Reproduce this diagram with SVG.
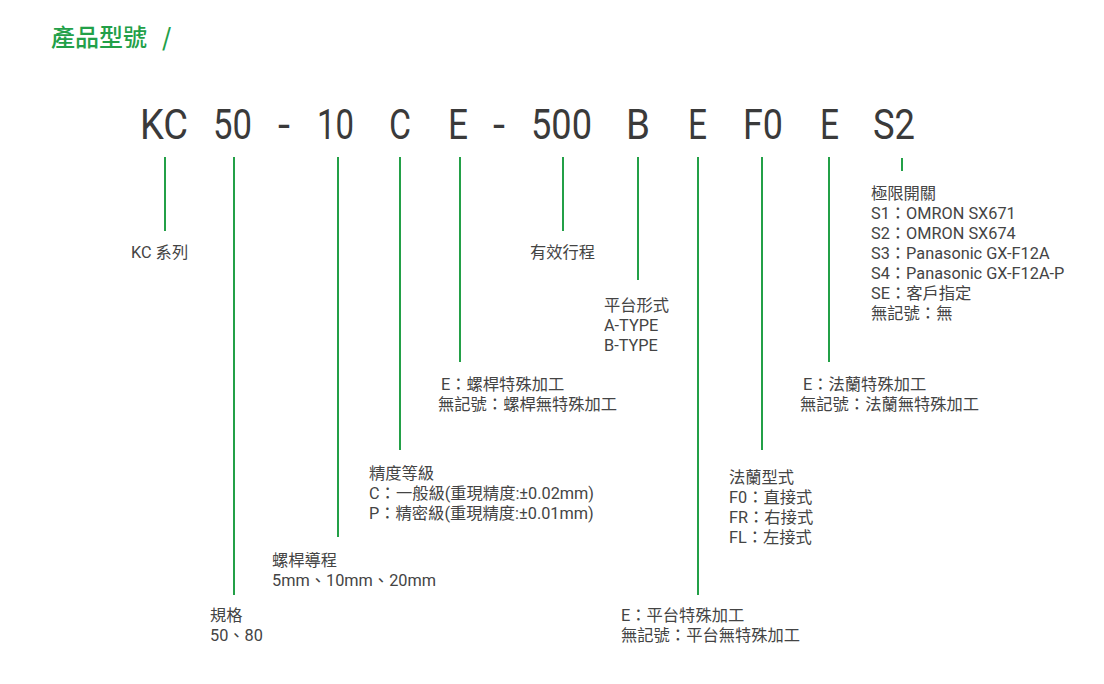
<svg xmlns="http://www.w3.org/2000/svg" width="1104" height="684" viewBox="0 0 1104 684">
<style>
.bg{fill:#ffffff}
.title{font-family:"Noto Sans CJK TC","Noto Sans",sans-serif;font-size:24px;font-weight:500;fill:#22a048}
.code{font-family:Roboto,"Liberation Sans",sans-serif;font-size:42px;fill:#3a3a3a}
.lbl{font-family:Roboto,"Noto Sans CJK TC",sans-serif;font-size:16.3px;fill:#444444}
.ln{stroke:#23a047;stroke-width:2;fill:none}
</style>
<rect class="bg" x="0" y="0" width="1104" height="684"/>
<g id="title">
<text class="title" x="51" y="46">產品型號</text>
<text class="title" x="162" y="46">/</text>
</g>
<g id="code">
<text class="code" x="140" y="139" textLength="48" lengthAdjust="spacingAndGlyphs">KC</text>
<text class="code" x="213" y="139" textLength="39" lengthAdjust="spacingAndGlyphs">50</text>
<text class="code" x="278" y="139" textLength="12" lengthAdjust="spacingAndGlyphs">-</text>
<text class="code" x="317" y="139" textLength="37" lengthAdjust="spacingAndGlyphs">10</text>
<text class="code" x="389" y="139" textLength="22" lengthAdjust="spacingAndGlyphs">C</text>
<text class="code" x="448" y="139" textLength="20" lengthAdjust="spacingAndGlyphs">E</text>
<text class="code" x="493" y="139" textLength="12" lengthAdjust="spacingAndGlyphs">-</text>
<text class="code" x="531" y="139" textLength="61" lengthAdjust="spacingAndGlyphs">500</text>
<text class="code" x="626" y="139" textLength="24" lengthAdjust="spacingAndGlyphs">B</text>
<text class="code" x="688" y="139" textLength="19" lengthAdjust="spacingAndGlyphs">E</text>
<text class="code" x="743" y="139" textLength="40" lengthAdjust="spacingAndGlyphs">F0</text>
<text class="code" x="820" y="139" textLength="19" lengthAdjust="spacingAndGlyphs">E</text>
<text class="code" x="873" y="139" textLength="42" lengthAdjust="spacingAndGlyphs">S2</text>
</g>
<g id="connectors">
<line class="ln" x1="165" y1="157" x2="165" y2="231"/>
<line class="ln" x1="234" y1="157" x2="234" y2="595"/>
<line class="ln" x1="338" y1="157" x2="338" y2="537"/>
<line class="ln" x1="400" y1="157" x2="400" y2="450"/>
<line class="ln" x1="460" y1="157" x2="460" y2="362"/>
<line class="ln" x1="563" y1="157" x2="563" y2="231"/>
<line class="ln" x1="638" y1="157" x2="638" y2="280"/>
<line class="ln" x1="698" y1="157" x2="698" y2="595"/>
<line class="ln" x1="762" y1="157" x2="762" y2="450"/>
<line class="ln" x1="829" y1="157" x2="829" y2="362"/>
<line class="ln" x1="902" y1="158" x2="902" y2="171"/>
</g>
<g id="n-kc"><text class="lbl" x="131" y="258">KC 系列</text></g>
<g id="n-stroke"><text class="lbl" x="530" y="258">有效行程</text></g>
<g id="n-platform"><text class="lbl"><tspan x="604" y="311">平台形式</tspan><tspan x="604" y="331">A-TYPE</tspan><tspan x="604" y="351">B-TYPE</tspan></text></g>
<g id="n-switch"><text class="lbl"><tspan x="871" y="199">極限開關</tspan><tspan x="871" y="219">S1：OMRON SX671</tspan><tspan x="871" y="239">S2：OMRON SX674</tspan><tspan x="871" y="259">S3：Panasonic GX-F12A</tspan><tspan x="871" y="279">S4：Panasonic GX-F12A-P</tspan><tspan x="871" y="299">SE：客戶指定</tspan><tspan x="871" y="319">無記號：無</tspan></text></g>
<g id="n-screw"><text class="lbl"><tspan x="441" y="390">E：螺桿特殊加工</tspan><tspan x="438" y="410">無記號：螺桿無特殊加工</tspan></text></g>
<g id="n-flange-e"><text class="lbl"><tspan x="803" y="390">E：法蘭特殊加工</tspan><tspan x="800" y="410">無記號：法蘭無特殊加工</tspan></text></g>
<g id="n-accuracy"><text class="lbl"><tspan x="369" y="479">精度等級</tspan><tspan x="369" y="499">C：一般級(重現精度:±0.02mm)</tspan><tspan x="369" y="519">P：精密級(重現精度:±0.01mm)</tspan></text></g>
<g id="n-flange"><text class="lbl"><tspan x="729" y="483">法蘭型式</tspan><tspan x="729" y="503">F0：直接式</tspan><tspan x="729" y="523">FR：右接式</tspan><tspan x="729" y="543">FL：左接式</tspan></text></g>
<g id="n-lead"><text class="lbl"><tspan x="272" y="566">螺桿導程</tspan><tspan x="272" y="586">5mm、10mm、20mm</tspan></text></g>
<g id="n-platform-e"><text class="lbl"><tspan x="621" y="621">E：平台特殊加工</tspan><tspan x="621" y="641">無記號：平台無特殊加工</tspan></text></g>
<g id="n-size"><text class="lbl"><tspan x="210" y="621">規格</tspan><tspan x="210" y="641">50、80</tspan></text></g>
</svg>
